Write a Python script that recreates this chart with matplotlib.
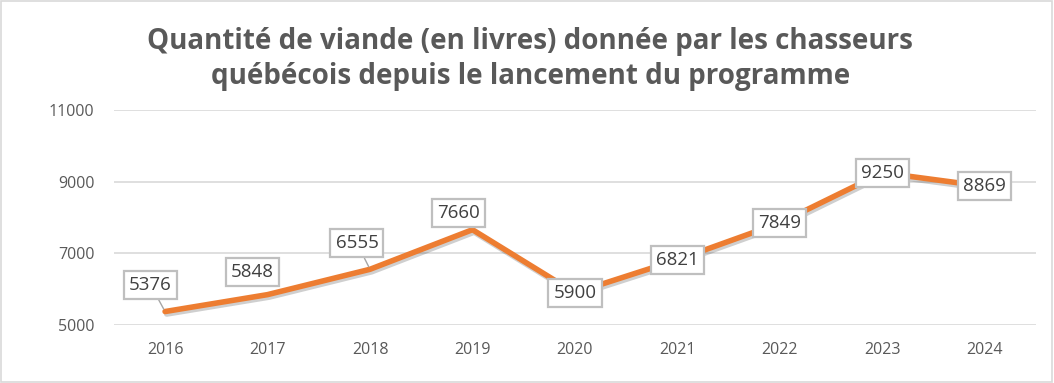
import matplotlib
matplotlib.use("Agg")
import matplotlib.pyplot as plt
import matplotlib.patheffects as pe
from matplotlib.patches import Rectangle

years = ["2016", "2017", "2018", "2019", "2020", "2021", "2022", "2023", "2024"]
livres = [5376, 5848, 6555, 7660, 5900, 6821, 7849, 9250, 8869]
yticks = [5000, 7000, 9000, 11000]

title = "Quantité de viande (en livres) donnée par les chasseurs\nquébécois depuis le lancement du programme"

# label offsets in points and leader-line flags (style/position only)
offsets = [(-10.4, 19.1), (-10.8, 16.3), (-9.4, 18.7), (-10, 12), (0, 0), (0, 0), (0, 0), (0, 0), (0, 0)]
leaders = [True, False, True, False, False, False, False, False, False]

plt.rcParams['font.family'] = ['Open Sans', 'DejaVu Sans']

fig = plt.figure(figsize=(10.54, 3.83), dpi=100)
fig.patches.append(Rectangle((0.001, 0.002), 0.997, 0.995, transform=fig.transFigure,
                             fill=False, edgecolor="#D9D9D9", linewidth=1.2))
ax = fig.add_axes([0.108, 0.1514, 0.875, 0.5614])

x = list(range(len(years)))
ax.plot(x, livres, color="#ED7D31", linewidth=4, solid_capstyle="round",
        solid_joinstyle="round", zorder=3,
        path_effects=[pe.SimpleLineShadow(offset=(1.2, -1.8), shadow_color="#404040", alpha=0.25, rho=1),
                      pe.Normal()])

for xi, v, off, lead in zip(x, livres, offsets, leaders):
    kw = {}
    if lead:
        kw["arrowprops"] = dict(arrowstyle="-", color="#A6A6A6", lw=1, shrinkA=0, shrinkB=2)
    ax.annotate(str(v), (xi, v), xytext=off, textcoords="offset points",
                ha="center", va="center", fontsize=13.5, color="#404040", zorder=5,
                bbox=dict(boxstyle="square,pad=0.27", fc="white", ec="#BFBFBF", lw=1.6), **kw)

ax.set_xlim(-0.5, len(years) - 0.5)
ax.set_ylim(5000, 11000)
ax.set_yticks(yticks)
ax.set_yticklabels([str(t) for t in yticks])
ax.set_xticks(x)
ax.set_xticklabels(years)
ax.tick_params(axis="both", length=0, labelsize=11.5, labelcolor="#595959")
ax.tick_params(axis="x", pad=12)
ax.tick_params(axis="y", pad=14)
ax.grid(axis="y", color="#D9D9D9", linewidth=1.2)
ax.set_axisbelow(True)
for s in ax.spines.values():
    s.set_visible(False)

fig.text(0.503, 0.846, title, ha="center", va="center", fontsize=20, fontweight="bold",
         color="#595959", linespacing=1.3)

fig.savefig("out.png", dpi=100)
